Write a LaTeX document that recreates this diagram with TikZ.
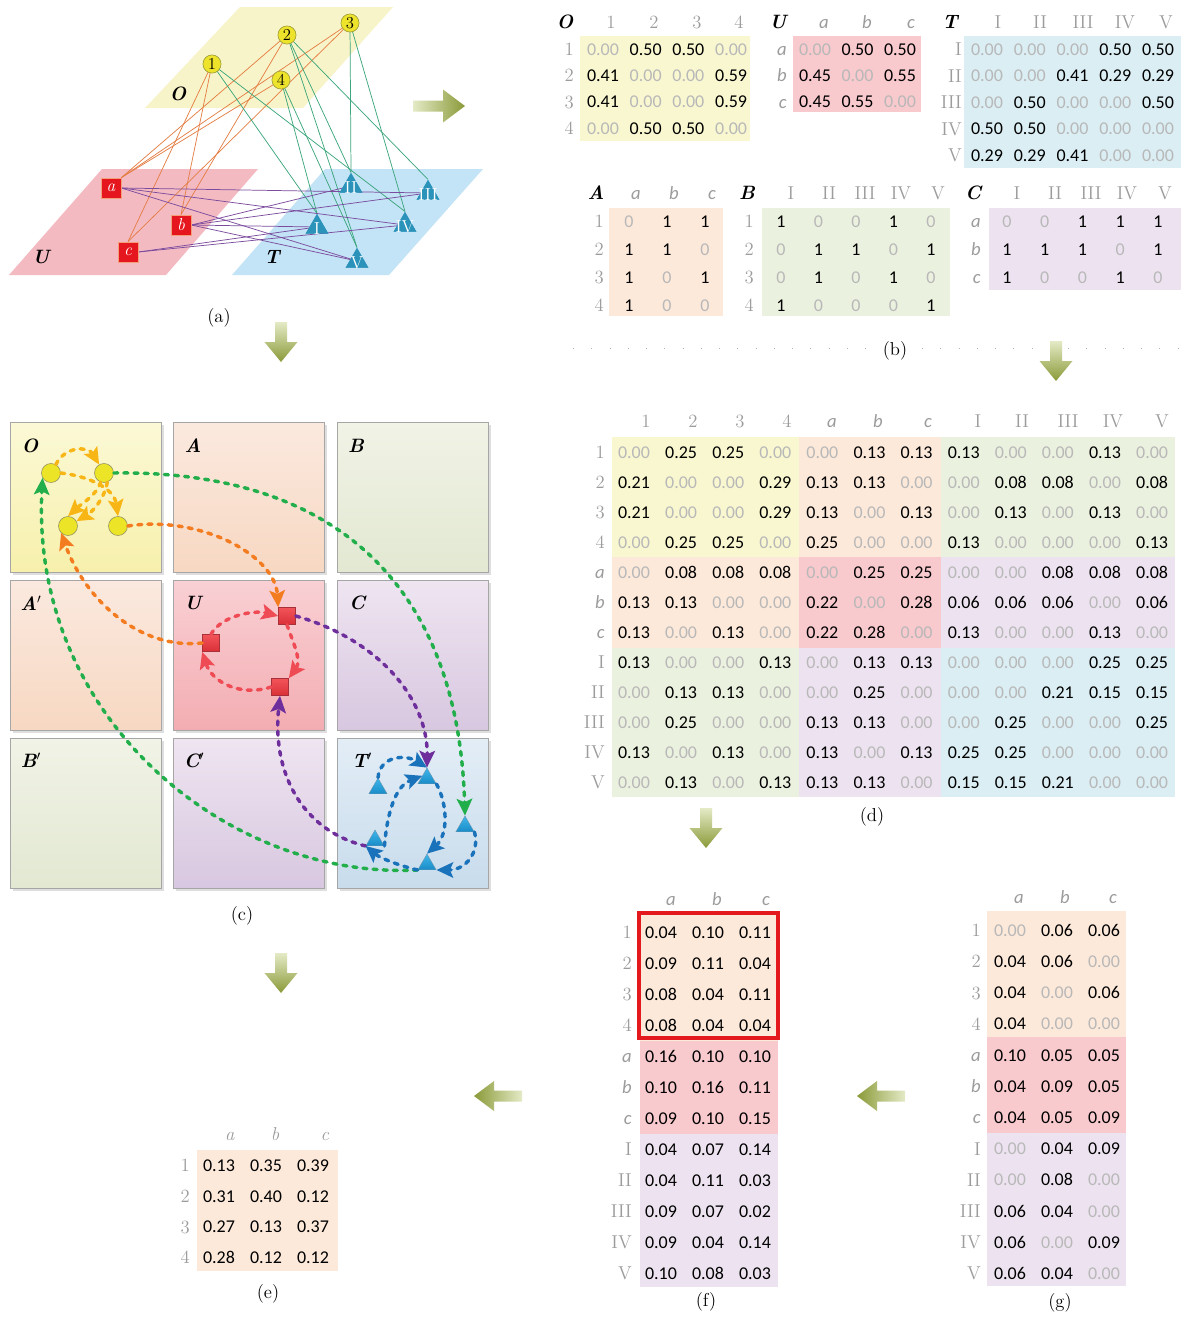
\documentclass[tikz,border=0pt]{standalone}
\usepackage{fontspec}
\newfontfamily\carl{Carlito}
\usetikzlibrary{arrows.meta,shapes.geometric}
\definecolor{zgray}{HTML}{B8B8B8}
\definecolor{lgray}{HTML}{9C9C9C}
\definecolor{bgY}{HTML}{F9F7D0}
\definecolor{bgP}{HTML}{F8C9CD}
\definecolor{bgB}{HTML}{DAEEF4}
\definecolor{bgA}{HTML}{FDE9DA}
\definecolor{bgG}{HTML}{EBF1DF}
\definecolor{bgC}{HTML}{EDE3F0}
\definecolor{olD}{HTML}{8A9A38}
\definecolor{olL}{HTML}{E4EAC6}
\definecolor{cgold}{HTML}{F8B616}
\definecolor{corange}{HTML}{F47C20}
\definecolor{cred}{HTML}{EE4B55}
\definecolor{cpurple}{HTML}{6E2F9C}
\definecolor{cgreen}{HTML}{21AE4B}
\definecolor{cblue}{HTML}{1A72BA}
\definecolor{eorange}{HTML}{E47E45}
\definecolor{egreen}{HTML}{3CA67C}
\definecolor{epurple}{HTML}{7B4C9E}
\definecolor{plY}{HTML}{F8F4C9}
\definecolor{plP}{HTML}{F4BAC2}
\definecolor{plB}{HTML}{C3E3F6}
\definecolor{tealA}{HTML}{2B93BA}
\definecolor{redbox}{HTML}{E4191E}
\newcommand\ia[1]{{\carl\itshape #1}}
\newcommand\cv[1]{\ifdim#1pt=0pt\textcolor{zgray}{#1}\else#1\fi}
\newcommand\drawmat[6]{\foreach \rw [count=\i] in {#6}{\foreach \v [count=\j] in \rw {\node[val] (#1-\i-\j) at ({#2+(\j-1)*#3},{#4+(\i-1)*#5}) {\cv{\v}};}}}
\newcommand\arrR[2]{\shade[left color=olL, right color=olD] (#1-52,#2-5.5) -- (#1-22,#2-5.5) -- (#1-22,#2-16.5) -- (#1,#2) -- (#1-22,#2+16.5) -- (#1-22,#2+5.5) -- (#1-52,#2+5.5) -- cycle;}
\newcommand\arrD[2]{\shade[top color=olL, bottom color=olD] (#1-6,#2-40) -- (#1+6,#2-40) -- (#1+6,#2-20) -- (#1+16.5,#2-20) -- (#1,#2) -- (#1-16.5,#2-20) -- (#1-6,#2-20) -- cycle;}
\newcommand\arrL[2]{\shade[left color=olD, right color=olL] (#1,#2) -- (#1+20,#2-15) -- (#1+20,#2-5.5) -- (#1+48,#2-5.5) -- (#1+48,#2+5.5) -- (#1+20,#2+5.5) -- (#1+20,#2+15) -- cycle;}
\newcommand\cbox[4]{\fill[black!13] (#1+2.5,#2+2.5) rectangle (#1+153.5,#2+152.5); \shade[top color=#3, bottom color=#4, draw=black!35, line width=0.5pt] (#1,#2) rectangle (#1+151,#2+150);}
\begin{document}
\begin{tikzpicture}[x=0.75pt,y=-0.75pt,
  val/.style={font=\carl\fontsize{13.5}{15}\selectfont, inner sep=0pt, anchor=mid, yshift=-2.6pt},
  rlab/.style={font=\fontsize{14}{16}\selectfont, text=lgray, inner sep=0pt, anchor=mid east, yshift=-2.8pt},
  hlab/.style={font=\fontsize{14}{16}\selectfont, text=lgray, inner sep=0pt, anchor=mid, yshift=-2.8pt},
  mname/.style={font=\fontsize{14.5}{16}\selectfont\bfseries\itshape, inner sep=0pt, anchor=mid, yshift=-2.7pt},
  capt/.style={font=\fontsize{14}{16}\selectfont, inner sep=0pt, anchor=mid, yshift=-2.4pt},
  acirc/.style={circle, minimum size=13.5pt, inner sep=0pt, fill={rgb,255:red,237;green,227;blue,42}, draw={rgb,255:red,160;green,160;blue,64}, line width=0.4pt, font=\fontsize{12.5}{13}\selectfont},
  asq/.style={rectangle, minimum size=15pt, inner sep=0pt, fill={rgb,255:red,229;green,22;blue,29}, draw={rgb,255:red,243;green,160;blue,122}, line width=0.6pt, text=white, font=\fontsize{13}{14}\selectfont\itshape},
  atri/.style={regular polygon, regular polygon sides=3, minimum size=19.5pt, inner sep=0pt, fill=tealA},
  atl/.style={text=white, inner sep=0pt, font=\fontsize{13}{14}\selectfont},
  eo/.style={eorange, line width=0.55pt},
  eg/.style={egreen, line width=0.55pt},
  ep/.style={epurple, line width=0.55pt},
  ccirc/.style={circle, minimum size=14.25pt, inner sep=0pt, fill={rgb,255:red,236;green,228;blue,38}, draw={rgb,255:red,140;green,140;blue,96}, line width=0.4pt},
  csq/.style={rectangle, minimum size=12.75pt, inner sep=0pt, top color={rgb,255:red,242;green,84;blue,90}, bottom color={rgb,255:red,218;green,48;blue,56}, draw={rgb,255:red,168;green,48;blue,56}, line width=0.5pt},
  ctri/.style={regular polygon, regular polygon sides=3, minimum size=15.75pt, inner sep=0pt, top color={rgb,255:red,62;green,182;blue,234}, bottom color={rgb,255:red,26;green,140;blue,200}, draw={rgb,255:red,110;green,150;blue,176}, line width=0.3pt},
  darr/.style={line width=2.6pt, dash pattern=on 3pt off 4.6pt, line cap=round, -{Stealth[length=12.5pt,width=11.5pt,inset=2.5pt]}},
  blab/.style={font=\fontsize{14.5}{16}\selectfont\bfseries\itshape, inner sep=0pt, anchor=mid, yshift=-2.7pt}]
\fill[white] (0,0) rectangle (1181,1318);
\useasboundingbox (0,0) rectangle (1181,1318);

% ================= (a) =================
\fill[plY] (145,108) -- (303,108) -- (393,7) -- (240,7) -- cycle;
\fill[plP] (9,275) -- (166,275) -- (258,169) -- (102,169) -- cycle;
\fill[plB] (232,275) -- (389,275) -- (483,169) -- (325,169) -- cycle;
\node[mname] (aO) at (178,94) {O};
\node[mname] (aU) at (41,257) {U};
\node[mname] (aT) at (272,257) {T};
\node[acirc] (n1) at (212,64) {1};
\node[acirc] (n2) at (287,35) {2};
\node[acirc] (n3) at (350,23) {3};
\node[acirc] (n4) at (281,80) {4};
\node[asq] (sa) at (111,188) {a};
\node[asq] (sb) at (181,225) {b};
\node[asq] (sc) at (128,252) {c};
\node[atri] (tI) at (317,227) {};
\node[atri] (tII) at (351,186) {};
\node[atri] (tIII) at (428,193) {};
\node[atri] (tIV) at (405,225) {};
\node[atri] (tV) at (357,261) {};
\draw[eo] (n1.center) -- (sb.north);
\draw[eo] (n1.center) -- (sc.north);
\draw[eo] (n2.center) -- (sa.north east);
\draw[eo] (n2.center) -- (sb.north);
\draw[eo] (n3.center) -- (sa.north east);
\draw[eo] (n3.center) -- (sc.north);
\draw[eo] (n4.center) -- (sa.north east);
\draw[eg] (n1.center) -- (tI.corner 1);
\draw[eg] (n1.center) -- (tIV.corner 1);
\draw[eg] (n2.center) -- (tII.corner 1);
\draw[eg] (n2.center) -- (tIII.corner 1);
\draw[eg] (n2.center) -- (tV.corner 1);
\draw[eg] (n3.center) -- (tII.corner 1);
\draw[eg] (n3.center) -- (tIV.corner 1);
\draw[eg] (n4.center) -- (tI.corner 1);
\draw[eg] (n4.center) -- (tV.corner 1);
\draw[ep] (sa.east) -- (tIII.center);
\draw[ep] (sa.east) -- (tIV.center);
\draw[ep] (sa.east) -- (tV.center);
\draw[ep] (sb.east) -- (tI.center);
\draw[ep] (sb.east) -- (tII.center);
\draw[ep] (sb.east) -- (tIII.center);
\draw[ep] (sb.east) -- (tV.center);
\draw[ep] (sc.east) -- (tI.center);
\draw[ep] (sc.east) -- (tIV.center);
\node[acirc] (n1t) at (n1) {1};
\node[acirc] (n2t) at (n2) {2};
\node[acirc] (n3t) at (n3) {3};
\node[acirc] (n4t) at (n4) {4};
\node[asq] (sat) at (sa) {a};
\node[asq] (sbt) at (sb) {b};
\node[asq] (sct) at (sc) {c};
\foreach \nm/\lb in {tI/I,tII/II,tIII/III,tIV/IV,tV/V}{
  \node[atri] (\nm t) at (\nm) {};
  \node[atl] (\nm l) at ([yshift=-1.5pt]\nm.center) {\lb};
}
\node[capt] (capa) at (219,316) {(a)};
\arrR{465}{106}
\arrD{281}{362}

% ================= (b) =================
\fill[bgY] (580,36) rectangle (750,141);
\fill[bgP] (793,36) rectangle (921,112);
\fill[bgB] (964,36) rectangle (1181,168);
\fill[bgA] (609,208) rectangle (723,316);
\fill[bgG] (762,208) rectangle (950,316);
\fill[bgC] (989,208) rectangle (1181,290);
\node[mname] (bO) at (565,22) {O};
\node[mname] (bU) at (778,22) {U};
\node[mname] (bT) at (950,22) {T};
\node[mname] (bA) at (596,193) {A};
\node[mname] (bB) at (747,193) {B};
\node[mname] (bC) at (973,193) {C};
\foreach \t/\x in {1/611,2/654,3/697,4/739}{\node[hlab] (bOh\x) at (\x,22) {\t};}
\foreach \t/\x in {\ia{a}/824,\ia{b}/867,\ia{c}/911}{\node[hlab] (bUh\x) at (\x,22) {\t};}
\foreach \t/\x in {I/998,II/1040,III/1083,IV/1125,V/1166}{\node[hlab] (bTh\x) at (\x,22) {\t};}
\foreach \t/\x in {\ia{a}/636,\ia{b}/674,\ia{c}/712}{\node[hlab] (bAh\x) at (\x,193) {\t};}
\foreach \t/\x in {I/791,II/829,III/865,IV/901,V/938}{\node[hlab] (bBh\x) at (\x,193) {\t};}
\foreach \t/\x in {I/1017,II/1055,III/1091,IV/1127,V/1165}{\node[hlab] (bCh\x) at (\x,193) {\t};}
\foreach \t [count=\i] in {1,2,3,4}{\node[rlab] (bOr\i) at (574,{49+(\i-1)*26.3}) {\t};}
\foreach \t [count=\i] in {\ia{a},\ia{b},\ia{c}}{\node[rlab] (bUr\i) at (787,{49+(\i-1)*26.3}) {\t};}
\foreach \t [count=\i] in {I,II,III,IV,V}{\node[rlab] (bTr\i) at (962,{49+(\i-1)*26.5}) {\t};}
\foreach \t [count=\i] in {1,2,3,4}{\node[rlab] (bAr\i) at (604,{221+(\i-1)*28}) {\t};}
\foreach \t [count=\i] in {1,2,3,4}{\node[rlab] (bBr\i) at (754,{221+(\i-1)*28}) {\t};}
\foreach \t [count=\i] in {\ia{a},\ia{b},\ia{c}}{\node[rlab] (bCr\i) at (981,{221+(\i-1)*28}) {\t};}
\drawmat{mO}{603}{42.7}{49}{26.3}{{0.00,0.50,0.50,0.00},{0.41,0.00,0.00,0.59},{0.41,0.00,0.00,0.59},{0.00,0.50,0.50,0.00}}
\drawmat{mU}{815}{42.5}{49}{26.3}{{0.00,0.50,0.50},{0.45,0.00,0.55},{0.45,0.55,0.00}}
\drawmat{mT}{987}{42.75}{49}{26.5}{{0.00,0.00,0.00,0.50,0.50},{0.00,0.00,0.41,0.29,0.29},{0.00,0.50,0.00,0.00,0.50},{0.50,0.50,0.00,0.00,0.00},{0.29,0.29,0.41,0.00,0.00}}
\drawmat{mA}{629}{38}{221}{28}{{0,1,1},{1,1,0},{1,0,1},{1,0,0}}
\drawmat{mB}{781}{37.5}{221}{28}{{1,0,0,1,0},{0,1,1,0,1},{0,1,0,1,0},{1,0,0,0,1}}
\drawmat{mC}{1007}{37.75}{221}{28}{{0,0,1,1,1},{1,1,1,0,1},{1,0,0,1,0}}
\draw[black!30, line width=0.7pt, dash pattern=on 0.7pt off 13pt] (573,348) -- (870,348);
\draw[black!30, line width=0.7pt, dash pattern=on 0.7pt off 13pt] (922,348) -- (1181,348);
\node[capt] (capb) at (895,349) {(b)};
\arrD{1056}{381}

% ================= (c) =================
\cbox{10}{422}{{rgb,255:red,251;green,249;blue,214}}{{rgb,255:red,247;green,240;blue,172}}
\cbox{173}{422}{{rgb,255:red,251;green,233;blue,223}}{{rgb,255:red,247;green,216;blue,194}}
\cbox{337}{422}{{rgb,255:red,241;green,243;blue,230}}{{rgb,255:red,226;green,232;blue,210}}
\cbox{10}{580}{{rgb,255:red,251;green,233;blue,223}}{{rgb,255:red,247;green,216;blue,194}}
\cbox{173}{580}{{rgb,255:red,249;green,208;blue,212}}{{rgb,255:red,243;green,173;blue,178}}
\cbox{337}{580}{{rgb,255:red,239;green,229;blue,241}}{{rgb,255:red,216;green,199;blue,224}}
\cbox{10}{738}{{rgb,255:red,241;green,243;blue,230}}{{rgb,255:red,226;green,232;blue,210}}
\cbox{173}{738}{{rgb,255:red,239;green,229;blue,241}}{{rgb,255:red,216;green,199;blue,224}}
\cbox{337}{738}{{rgb,255:red,227;green,237;blue,246}}{{rgb,255:red,200;green,220;blue,236}}
\node[blab] (lO) at (30,446) {O};
\node[blab] (lA) at (193,446) {A};
\node[blab] (lB) at (356,446) {B};
\node[blab] (lA2) at (31,604) {A$'$};
\node[blab] (lU) at (193,603) {U};
\node[blab] (lC) at (357,603) {C};
\node[blab] (lB2) at (31,761) {B$'$};
\node[blab] (lC2) at (194,761) {C$'$};
\node[blab] (lT2) at (362,761) {T$'$};
\node[ccirc] (c1) at (51,473) {};
\node[ccirc] (c2) at (104,473) {};
\node[ccirc] (c3) at (68,526) {};
\node[ccirc] (c4) at (118,526) {};
\node[csq] (q1) at (287,616) {};
\node[csq] (q2) at (211,643) {};
\node[csq] (q3) at (280,687) {};
\node[ctri] (t1) at (378,788.5) {};
\node[ctri] (t2) at (427,778.5) {};
\node[ctri] (t3) at (465,826.5) {};
\node[ctri] (t4) at (375,840.5) {};
\node[ctri] (t5) at (427,864.5) {};
% gold
\draw[darr,cgold] (c1.60) .. controls (65,446) and (88,446) .. (c2.120);
\draw[darr,cgold] (c1.east) .. controls (88,476) and (114,488) .. (c4.north);
\draw[darr,cgold] (c2.250) .. controls (97,495) and (80,505) .. (c3.north);
\draw[darr,cgold] (c2.290) .. controls (104,500) and (92,512) .. (c3.30);
% orange
\draw[darr,corange] (c4.east) .. controls (200,515) and (275,555) .. (q1.north west);
\draw[darr,corange] (q2.west) .. controls (140,650) and (85,600) .. (c3.south west);
% red
\draw[darr,cred] (q2.north) .. controls (222,615) and (255,610) .. (q1.west);
\draw[darr,cred] (q1.south) .. controls (292,640) and (302,660) .. (q3.north east);
\draw[darr,cred] (q3.west) .. controls (240,697) and (212,682) .. (q2.south west);
% purple
\draw[darr,cpurple] (q1.east) .. controls (380,640) and (428,700) .. (t2.corner 1);
\draw[darr,cpurple] (t4.corner 2) .. controls (300,830) and (272,770) .. (q3.south);
% green
\draw[darr,cgreen] (c2.east) .. controls (330,470) and (458,580) .. (t3.corner 1);
\draw[darr,cgreen] (t5.corner 2) .. controls (230,880) and (30,720) .. (c1.210);
% blue
\draw[darr,cblue] (t1.corner 1) .. controls (380,756) and (405,754) .. (t2.corner 1);
\draw[darr,cblue] (t4.corner 3) .. controls (388,805) and (398,785) .. (t2.side 1);
\draw[darr,cblue] (t2.corner 3) .. controls (448,805) and (448,835) .. (t5.corner 1);
\draw[darr,cblue] (t3.corner 3) .. controls (480,852) and (466,870) .. (t5.corner 3);
\draw[darr,cblue] (t5.corner 2) .. controls (400,866) and (380,858) .. (t4.corner 2);
\node[capt] (capc) at (242,914) {(c)};
\arrD{281}{993}

% ================= (d) =================
\fill[bgY] (612,437) rectangle (799,557);
\fill[bgA] (799,437) rectangle (941,557);
\fill[bgG] (941,437) rectangle (1175,557);
\fill[bgA] (612,557) rectangle (799,648);
\fill[bgP] (799,557) rectangle (941,648);
\fill[bgC] (941,557) rectangle (1175,648);
\fill[bgG] (612,648) rectangle (799,797);
\fill[bgC] (799,648) rectangle (941,797);
\fill[bgB] (941,648) rectangle (1175,797);
\foreach \t/\x in {1/646,2/693,3/740,4/787,\ia{a}/832,\ia{b}/878,\ia{c}/928,I/978,II/1022,III/1068,IV/1113,V/1162}{\node[hlab] (dh\x) at (\x,421) {\t};}
\foreach \t [count=\i] in {1,2,3,4,\ia{a},\ia{b},\ia{c},I,II,III,IV,V}{\node[rlab] (dr\i) at (605,{452+(\i-1)*30}) {\t};}
\drawmat{md}{634}{47.1}{452}{30}{{0.00,0.25,0.25,0.00,0.00,0.13,0.13,0.13,0.00,0.00,0.13,0.00},{0.21,0.00,0.00,0.29,0.13,0.13,0.00,0.00,0.08,0.08,0.00,0.08},{0.21,0.00,0.00,0.29,0.13,0.00,0.13,0.00,0.13,0.00,0.13,0.00},{0.00,0.25,0.25,0.00,0.25,0.00,0.00,0.13,0.00,0.00,0.00,0.13},{0.00,0.08,0.08,0.08,0.00,0.25,0.25,0.00,0.00,0.08,0.08,0.08},{0.13,0.13,0.00,0.00,0.22,0.00,0.28,0.06,0.06,0.06,0.00,0.06},{0.13,0.00,0.13,0.00,0.22,0.28,0.00,0.13,0.00,0.00,0.13,0.00},{0.13,0.00,0.00,0.13,0.00,0.13,0.13,0.00,0.00,0.00,0.25,0.25},{0.00,0.13,0.13,0.00,0.00,0.25,0.00,0.00,0.00,0.21,0.15,0.15},{0.00,0.25,0.00,0.00,0.13,0.13,0.00,0.00,0.25,0.00,0.00,0.25},{0.13,0.00,0.13,0.00,0.13,0.00,0.13,0.25,0.25,0.00,0.00,0.00},{0.00,0.13,0.00,0.13,0.13,0.13,0.00,0.15,0.15,0.21,0.00,0.00}}
\node[capt] (capd) at (872,815) {(d)};
\arrD{706}{848}

% ================= (f) =================
\fill[bgA] (640,914) rectangle (778,1041);
\fill[bgP] (640,1041) rectangle (778,1134);
\fill[bgC] (640,1134) rectangle (778,1287);
\foreach \t/\x in {\ia{a}/671,\ia{b}/717,\ia{c}/766}{\node[hlab] (fh\x) at (\x,899) {\t};}
\foreach \t [count=\i] in {1,2,3,4,\ia{a},\ia{b},\ia{c},I,II,III,IV,V}{\node[rlab] (fr\i) at (632,{932+(\i-1)*31}) {\t};}
\drawmat{mf}{661}{47}{932}{31}{{0.04,0.10,0.11},{0.09,0.11,0.04},{0.08,0.04,0.11},{0.08,0.04,0.04},{0.16,0.10,0.10},{0.10,0.16,0.11},{0.09,0.10,0.15},{0.04,0.07,0.14},{0.04,0.11,0.03},{0.09,0.07,0.02},{0.09,0.04,0.14},{0.10,0.08,0.03}}
\draw[redbox, line width=2.4pt] (639,913) rectangle (778,1038);
\node[capt] (capf) at (706,1300) {(f)};

% ================= (g) =================
\fill[bgA] (987,911) rectangle (1126,1037);
\fill[bgP] (987,1037) rectangle (1126,1133);
\fill[bgC] (987,1133) rectangle (1126,1286);
\foreach \t/\x in {\ia{a}/1019,\ia{b}/1065,\ia{c}/1113}{\node[hlab] (gh\x) at (\x,897) {\t};}
\foreach \t [count=\i] in {1,2,3,4,\ia{a},\ia{b},\ia{c},I,II,III,IV,V}{\node[rlab] (gr\i) at (981,{930+(\i-1)*31.2}) {\t};}
\drawmat{mg}{1010}{47}{930}{31.2}{{0.00,0.06,0.06},{0.04,0.06,0.00},{0.04,0.00,0.06},{0.04,0.00,0.00},{0.10,0.05,0.05},{0.04,0.09,0.05},{0.04,0.05,0.09},{0.00,0.04,0.09},{0.00,0.08,0.00},{0.06,0.04,0.00},{0.06,0.00,0.09},{0.06,0.04,0.00}}
\node[capt] (capg) at (1060,1301) {(g)};
\arrL{857}{1096}

% ================= (e) =================
\fill[bgA] (197,1150) rectangle (338,1271);
\foreach \t/\x in {a/230,b/275,c/325}{\node[hlab] (eh\x) at (\x,1134) {\textit{\t}};}
\foreach \t [count=\i] in {1,2,3,4}{\node[rlab] (er\i) at (190,{1165+(\i-1)*30.7}) {\t};}
\drawmat{me}{219}{47}{1165}{30.7}{{0.13,0.35,0.39},{0.31,0.40,0.12},{0.27,0.13,0.37},{0.28,0.12,0.12}}
\node[capt] (cape) at (268,1292) {(e)};
\arrL{474}{1096}
\end{tikzpicture}
\end{document}
